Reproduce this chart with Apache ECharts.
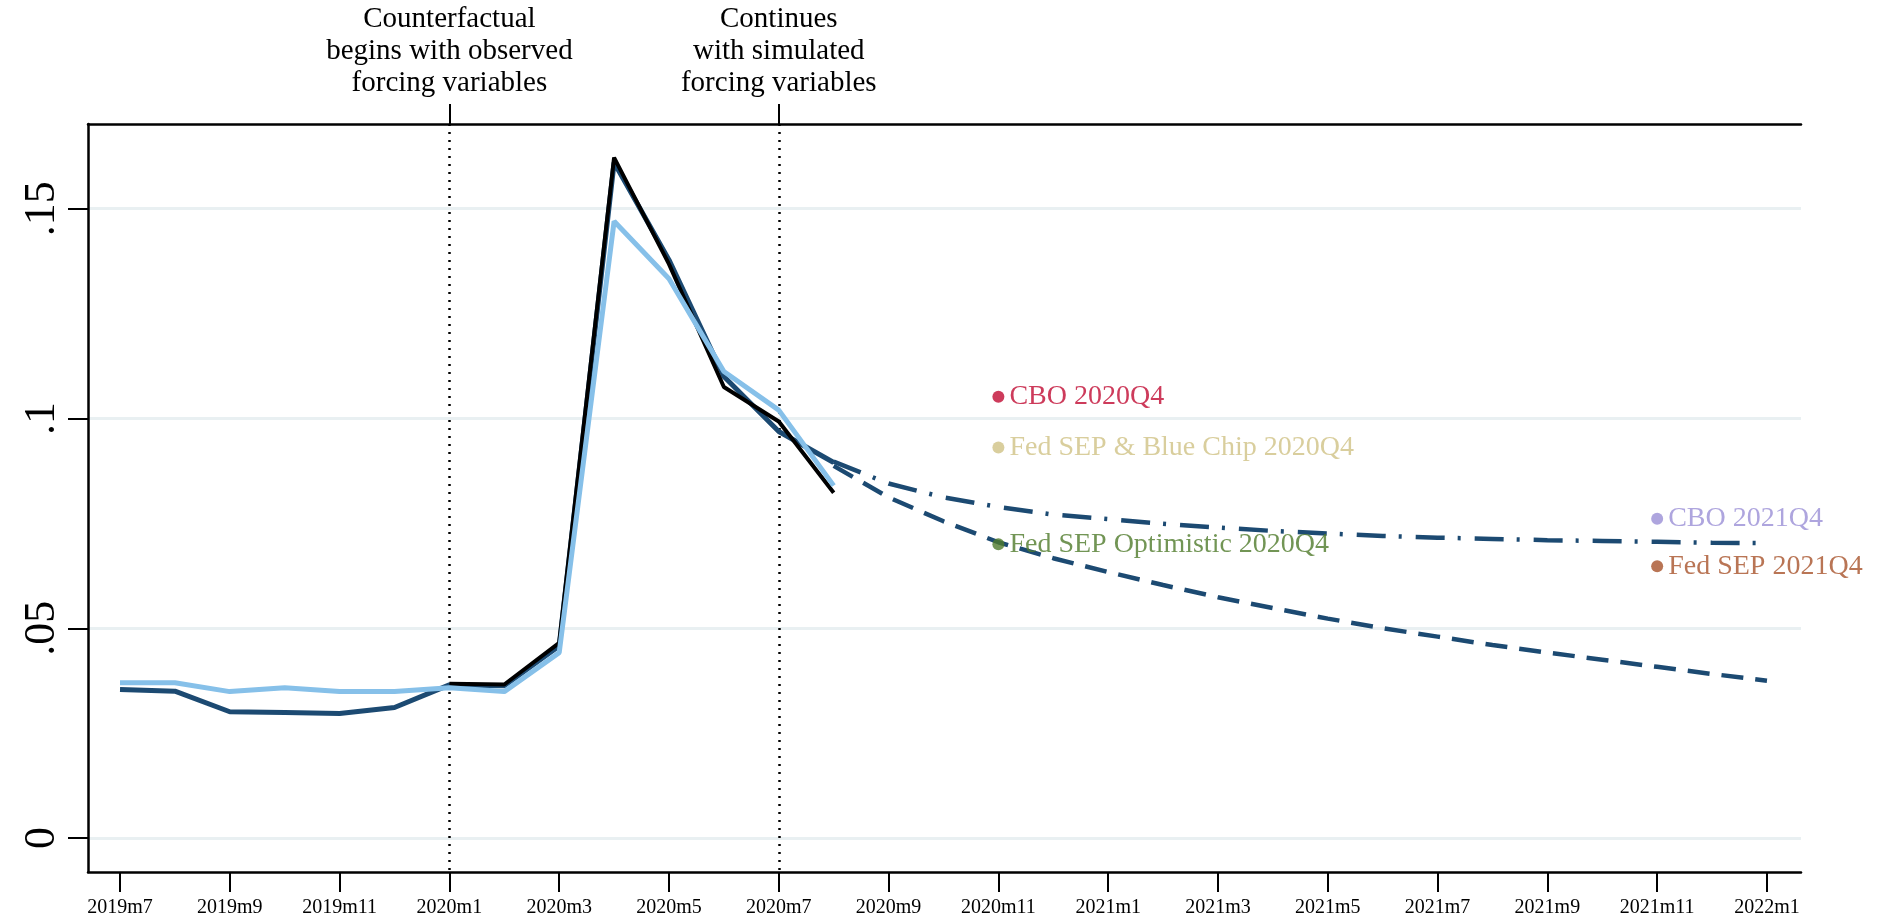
<!DOCTYPE html>
<html>
<head>
<meta charset="utf-8">
<script src="https://cdn.jsdelivr.net/npm/echarts@6/dist/echarts.min.js"></script>
<style>
html,body{margin:0;padding:0;background:#fff;}
#chart{width:1881px;height:923px;}
</style>
</head>
<body>
<div id="chart"></div>
<script>
// ---- data ----
const months = ['2019m7','2019m8','2019m9','2019m10','2019m11','2019m12',
  '2020m1','2020m2','2020m3','2020m4','2020m5','2020m6','2020m7','2020m8',
  '2020m9','2020m10','2020m11','2020m12','2021m1','2021m2','2021m3','2021m4',
  '2021m5','2021m6','2021m7','2021m8','2021m9','2021m10','2021m11','2021m12','2022m1'];
const tickLabelIndex = [0,2,4,6,8,10,12,14,16,18,20,22,24,26,28,30];
const yTicks = [0, 0.05, 0.1, 0.15];
const yTickLabels = ['0', '.05', '.1', '.15'];

// navy: 2019m7 .. 2020m8
const navyStart = 0;
const navyValues = [0.0354, 0.0350, 0.0301, 0.0299, 0.0297, 0.0311, 0.0365, 0.0363, 0.0458, 0.1610, 0.1378, 0.1100, 0.0969, 0.0895];
// black: 2020m1 .. 2020m8
const blackStart = 6;
const blackValues = [0.0368, 0.0366, 0.0465, 0.1622, 0.1368, 0.1075, 0.0993, 0.0823];
// light blue: 2019m7 .. 2020m8
const lightStart = 0;
const lightValues = [0.0370, 0.0370, 0.0349, 0.0358, 0.0349, 0.0349, 0.0358, 0.0349, 0.0442, 0.1470, 0.1333, 0.1112, 0.1020, 0.0840];
// dash-dot projection: 2020m8 .. 2022m1
const dashDotStart = 13;
const dashDotValues = [0.0897, 0.0845, 0.0812, 0.0789, 0.0771, 0.0760, 0.0749, 0.0740, 0.0732, 0.0726, 0.0720, 0.0716, 0.0713, 0.0710, 0.0708, 0.0706, 0.0704, 0.0703];
// dashed projection: 2020m8 .. 2022m1
const dashStart = 13;
const dashValues = [0.0887, 0.0812, 0.0755, 0.0705, 0.0667, 0.0634, 0.0603, 0.0574, 0.0548, 0.0523, 0.0500, 0.0480, 0.0460, 0.0442, 0.0425, 0.0408, 0.0391, 0.0375];

// forecast markers
const markerNames = ['CBO 2020Q4', 'Fed SEP & Blue Chip 2020Q4', 'Fed SEP Optimistic 2020Q4', 'CBO 2021Q4', 'Fed SEP 2021Q4'];
const markerMonths = ['2020m11', '2020m11', '2020m11', '2021m11', '2021m11'];
const markerValues = [0.1052, 0.0931, 0.0700, 0.0761, 0.0648];
const markerColors = ['#c00a32', '#cfc285', '#4f7a2b', '#9a8fd6', '#a8532b'];

// vertical annotation lines
const vlineMonths = ['2020m1', '2020m7'];
const vlineTexts = ['Counterfactual\nbegins with observed\nforcing variables', 'Continues\nwith simulated\nforcing variables'];

// ---- build ----
function toXY(start, vals){ return vals.map((v,i)=>[start+i, v]); }
const FONT = 'Liberation Serif';
const vlineIdx = vlineMonths.map(m=>months.indexOf(m));

const chart = echarts.init(document.getElementById('chart'), null, {renderer:'canvas'});
const lineBase = {type:'line', symbol:'none', smooth:false, animation:false};

const option = {
  animation:false,
  backgroundColor:'#ffffff',
  grid:{left:88, right:80, top:124, bottom:51, containLabel:false},
  xAxis:[{
    type:'value', position:'bottom', min:-0.583, max:30.62,
    axisLine:{show:true, onZero:false, lineStyle:{color:'#000', width:2.5}},
    axisTick:{show:true, inside:false, length:20, lineStyle:{color:'#000', width:2}, customValues:tickLabelIndex},
    axisLabel:{show:true, customValues:tickLabelIndex, margin:26, fontFamily:FONT, fontSize:20, color:'#000',
      formatter:v=>months[Math.round(v)]},
    splitLine:{show:false}
  },{
    type:'value', position:'top', min:-0.583, max:30.62,
    axisLine:{show:true, onZero:false, lineStyle:{color:'#000', width:2.5}},
    axisTick:{show:true, inside:false, length:20, lineStyle:{color:'#000', width:2}, customValues:vlineIdx},
    axisLabel:{show:true, customValues:vlineIdx, margin:25, fontFamily:FONT, fontSize:29, lineHeight:32, color:'#000', align:'center',
      formatter:v=>vlineTexts[vlineIdx.indexOf(Math.round(v))]},
    splitLine:{show:true, lineStyle:{color:'#000', width:2.5, type:[2,6]}}
  }],
  yAxis:{
    type:'value', min:-0.0081, max:0.1702,
    axisLine:{show:true, onZero:false, lineStyle:{color:'#000', width:2.5}},
    axisTick:{show:true, inside:false, length:20, lineStyle:{color:'#000', width:2}, customValues:yTicks},
    axisLabel:{show:true, customValues:yTicks, rotate:90, margin:24, fontFamily:FONT, fontSize:44, color:'#000',
      formatter:v=>yTickLabels[yTicks.findIndex(t=>Math.abs(t-v)<1e-6)]},
    splitLine:{show:true, lineStyle:{color:'#e9f0f2', width:3}}
  },
  series:[
    Object.assign({}, lineBase, {name:'dash', data:toXY(dashStart, dashValues), z:3,
      lineStyle:{color:'#1c4a72', width:4.5, type:[22,12]}}),
    Object.assign({}, lineBase, {name:'dashdot', data:toXY(dashDotStart, dashDotValues), z:3,
      lineStyle:{color:'#1c4a72', width:4.5, type:[29,13,3,14]}}),
    Object.assign({}, lineBase, {name:'navy', data:toXY(navyStart, navyValues), z:4,
      lineStyle:{color:'#1c4a72', width:5}}),
    Object.assign({}, lineBase, {name:'black', data:toXY(blackStart, blackValues), z:5,
      lineStyle:{color:'#000000', width:4}}),
    Object.assign({}, lineBase, {name:'light', data:toXY(lightStart, lightValues), z:6,
      lineStyle:{color:'#86c0e9', width:5}}),
    {
      type:'scatter', name:'markers', z:10, symbol:'circle', symbolSize:12, animation:false,
      data: markerNames.map((n,i)=>({
        name:n, value:[months.indexOf(markerMonths[i]), markerValues[i]],
        itemStyle:{color:markerColors[i]},
        label:{show:true, position:'right', distance:5, formatter:n, color:markerColors[i], fontFamily:FONT, fontSize:28}
      }))
    }
  ]
};
chart.setOption(option);
</script>
</body>
</html>
